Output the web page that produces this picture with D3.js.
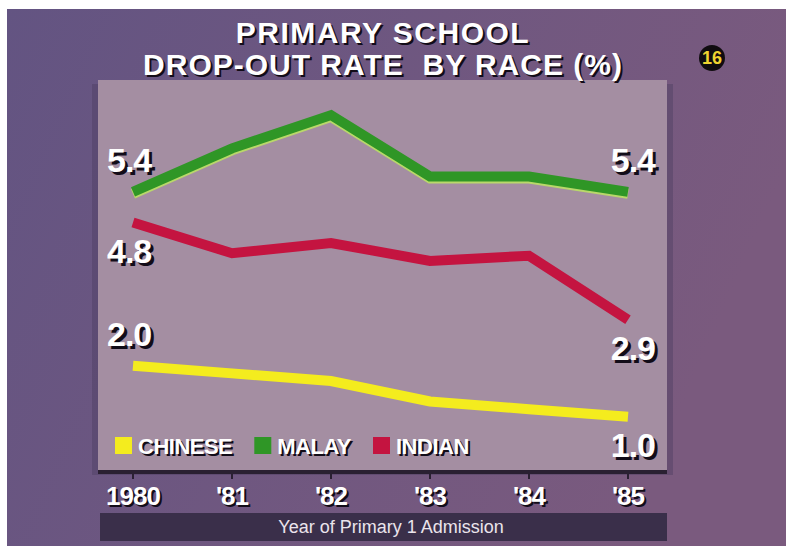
<!DOCTYPE html>
<html lang="en">
<head>
    <meta charset="UTF-8">
    <title>Primary school drop-out rate by race</title>
    <script src="https://cdn.jsdelivr.net/npm/d3@7"></script>
    <style>
        body { margin: 0; background: #fff; }
        svg { display: block; }
    </style>
</head>
<body>
<svg width="786" height="546" id="chart"></svg>
<script>
    // data (%)
    const years = ["1980", "'81", "'82", "'83", "'84", "'85"];
    const chinese = [2.0, 1.85, 1.7, 1.3, 1.15, 1.0];
    const malay = [5.4, 6.25, 6.9, 5.7, 5.7, 5.4];
    const indian = [4.8, 4.2, 4.4, 4.05, 4.15, 2.9];
    const seriesNames = ["CHINESE", "MALAY", "INDIAN"];
    const seriesColors = ["#f4ec1e", "#2f9626", "#c41440"];
    const titleLines = ["PRIMARY SCHOOL", "DROP-OUT RATE  BY RACE (%)"];
    const axisTitle = "Year of Primary 1 Admission";

    const series = [chinese, malay, indian];
    const svg = d3.select("#chart");
    const font = "'Liberation Sans', Arial, sans-serif";

    // background
    const defs = svg.append("defs");
    const grad = defs.append("linearGradient").attr("id", "bg").attr("x1", 0).attr("x2", 1).attr("y1", 0).attr("y2", 0.3);
    grad.append("stop").attr("offset", 0).attr("stop-color", "#635482");
    grad.append("stop").attr("offset", 1).attr("stop-color", "#7a5a7e");
    svg.append("rect").attr("x", 7).attr("y", 9).attr("width", 779).attr("height", 537).attr("fill", "url(#bg)");

    const plot = {left: 98, right: 667, top: 80, bottom: 470};

    // shadow and panel
    svg.append("rect").attr("x", plot.left - 6).attr("y", plot.top + 4)
        .attr("width", plot.right - plot.left + 12).attr("height", plot.bottom - plot.top + 1)
        .attr("fill", "#4e3f62").attr("opacity", 0.45);
    svg.append("rect").attr("x", plot.left).attr("y", plot.top)
        .attr("width", plot.right - plot.left).attr("height", plot.bottom - plot.top)
        .attr("fill", "#a48ea2");
    svg.append("rect").attr("x", plot.left).attr("y", plot.bottom)
        .attr("width", plot.right - plot.left).attr("height", 4).attr("fill", "#2a2032");

    const x = d3.scalePoint().domain(years).range([133, 628]);
    const y = d3.scaleLinear().domain([0, 7]).range([468, 110]);

    // text with a hard drop shadow (dark copy underneath)
    function shadowText(g, tx, ty, str, size, anchor, off, spacing) {
        const grp = g.append("g");
        [["#120c18", off], ["#fff", 0]].forEach(d => {
            grp.append("text")
                .attr("x", tx + d[1]).attr("y", ty + d[1])
                .attr("text-anchor", anchor)
                .style("font-family", font)
                .style("font-weight", "bold")
                .style("font-size", size + "px")
                .style("letter-spacing", spacing + "px")
                .style("white-space", "pre")
                .attr("fill", d[0])
                .text(str);
        });
        return grp;
    }

    // title
    shadowText(svg, 383, 43, titleLines[0], 30, "middle", 2, 1.5);
    shadowText(svg, 383, 75, titleLines[1], 30, "middle", 2, 1);

    // page badge
    svg.append("circle").attr("cx", 712).attr("cy", 58).attr("r", 13).attr("fill", "#100c10");
    svg.append("text").attr("x", 712).attr("y", 64).attr("text-anchor", "middle")
        .style("font-family", font).style("font-weight", "bold").style("font-size", "18px")
        .attr("fill", "#efd430").text("16");

    // lines
    const line = d3.line().x((d, i) => x(years[i])).y(d => y(d));
    // light edge under the green line
    svg.append("path").attr("d", line(malay)).attr("fill", "none")
        .attr("stroke", "#b9d86a").attr("stroke-width", 10).attr("transform", "translate(0,2)");
    series.forEach((s, i) => {
        svg.append("path").attr("d", line(s)).attr("fill", "none")
            .attr("stroke", seriesColors[i]).attr("stroke-width", 10)
            .attr("stroke-linejoin", "miter");
    });

    // end value labels: above (-1) or below (+1) the line end
    const startSide = [-1, -1, 1];
    const endSide = [1, -1, 1];
    series.forEach((s, i) => {
        const y0 = y(s[0]), y1 = y(s[s.length - 1]);
        shadowText(svg, x(years[0]) - 26, y0 + (startSide[i] < 0 ? -20 : 40), s[0].toFixed(1), 34, "start", 3, -1);
        shadowText(svg, x(years[years.length - 1]) + 27, y1 + (endSide[i] < 0 ? -20 : 40), s[s.length - 1].toFixed(1), 34, "end", 3, -1);
    });

    // legend
    const legend = svg.append("g");
    let lx = 115;
    seriesNames.forEach((name, i) => {
        legend.append("rect").attr("x", lx).attr("y", 437).attr("width", 17).attr("height", 17)
            .attr("fill", seriesColors[i]);
        const t = shadowText(legend, lx + 23, 454, name, 22, "start", 2, -0.5);
        lx += 23 + t.select("text").node().getComputedTextLength() + 22;
    });

    // x axis ticks and labels
    const ticks = svg.append("g");
    years.forEach(yr => {
        ticks.append("line").attr("x1", x(yr)).attr("x2", x(yr)).attr("y1", plot.bottom + 4).attr("y2", plot.bottom + 9)
            .attr("stroke", "#2a2032").attr("stroke-width", 2);
        shadowText(ticks, x(yr), 505, yr, 26, "middle", 2, -1);
    });

    // axis title bar
    svg.append("rect").attr("x", 100).attr("y", 513).attr("width", 567).attr("height", 28).attr("fill", "#3a2f4a");
    svg.append("text").attr("x", 391).attr("y", 533).attr("text-anchor", "middle")
        .style("font-family", font).style("font-size", "18px")
        .attr("fill", "#ebe4ec").text(axisTitle);
</script>
</body>
</html>
